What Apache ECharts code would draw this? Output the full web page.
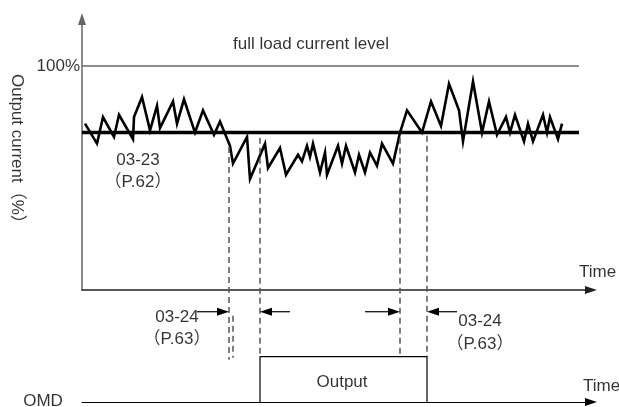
<!DOCTYPE html>
<html>
<head>
<meta charset="utf-8">
<script src="https://cdn.jsdelivr.net/npm/echarts@6/dist/echarts.min.js"></script>
<style>
  html, body { margin: 0; padding: 0; background: #fff; }
  #chart { width: 619px; height: 407px; }
</style>
</head>
<body>
<div id="chart"></div>
<script>
// output current trace (time units, % of full load)
const waveT = [3, 15, 21, 32, 37, 51, 52, 60, 68, 75, 78, 91, 95, 102, 113, 121, 132, 138, 148, 151,
  165, 168, 183, 186, 198, 204, 216, 220, 225, 228, 231, 238, 243, 245, 256, 260, 264, 273, 277, 283,
  288, 295, 300, 311, 318, 325, 340, 349, 359, 367, 377, 381, 391, 400, 407, 415, 424, 428, 433, 442,
  446, 451, 461, 465, 468, 476, 480]
const waveV = [74, 65, 77, 68, 78, 67, 77, 86, 71, 82, 72, 84, 74, 85, 70, 80, 69, 75, 64, 56,
  68, 49, 65, 54, 63, 51, 60, 57, 64, 59, 65, 52, 61, 51, 64, 56, 64, 52, 60, 52,
  61, 55, 65, 56, 70, 80, 70, 84, 73, 92, 80, 66, 93, 70, 84, 69, 77, 70, 78, 66,
  74, 66, 78, 70, 77, 67, 74]

const fullLoadLevel = 100
const detectLevel = 70
const levelEndT = 497

// OMD output on / off
const omdOnT = 178
const omdOffT = 345

// dashed guides: time, top, bottom
const dashT = [147, 151, 178, 318, 345]
const dashTop = [63.5, -12.6, 67.6, 67.6, 68.5]
const dashBottom = [-32.4, -31.5, -31.1, -31.1, -31.1]

// delay arrows: from, to (tip), level
const arrowFrom = [115, 208, 283, 375]
const arrowTo = [147, 178, 318, 345]
const arrowLevel = -10.8

// annotation texts
const labelText = ['full load current level', '100%', '03-23', '（P.62）', '03-24', '（P.63）', '03-24', '（P.63）', 'Time', 'Time', 'OMD', 'Output']
const labelT = [229, -2, 56, 56, 95, 95, 398, 398, 497, 501, -39, 260]
const labelV = [110, 100, 57.7, 47.7, -13.1, -23.4, -15.3, -25.7, 6.8, -44.6, -51.4, -42.8]
const labelAlign = ['center', 'right', 'center', 'center', 'center', 'center', 'center', 'center', 'left', 'left', 'center', 'center']

const font = 'Liberation Sans, Arial, Noto Sans CJK SC, sans-serif'

const series = []

series.push({
  type: 'line', xAxisIndex: 0, yAxisIndex: 0, symbol: 'none', clip: false, silent: true,
  data: [[0, fullLoadLevel], [levelEndT, fullLoadLevel]],
  lineStyle: { color: '#666', width: 1.5 }
})
series.push({
  type: 'line', xAxisIndex: 0, yAxisIndex: 0, symbol: 'none', clip: false, silent: true,
  data: [[0, detectLevel], [levelEndT, detectLevel]],
  lineStyle: { color: '#000', width: 3.5 }
})
series.push({
  type: 'line', xAxisIndex: 0, yAxisIndex: 0, symbol: 'none', clip: false, silent: true,
  data: waveT.map((t, i) => [t, waveV[i]]),
  lineStyle: { color: '#000', width: 2.6, join: 'miter' }
})

dashT.forEach((t, i) => {
  series.push({
    type: 'line', xAxisIndex: 0, yAxisIndex: 0, symbol: 'none', clip: false, silent: true,
    data: [[t, dashTop[i]], [t, dashBottom[i]]],
    lineStyle: { color: '#555', width: 1.5, type: [6, 4] }
  })
})

arrowFrom.forEach((f, i) => {
  const to = arrowTo[i]
  const dir = to > f ? 1 : -1
  series.push({
    type: 'line', xAxisIndex: 0, yAxisIndex: 0, clip: false, silent: true,
    data: [
      { value: [f, arrowLevel], symbol: 'none' },
      { value: [to - dir * 6, arrowLevel], symbol: 'triangle', symbolSize: [8, 12], symbolRotate: dir > 0 ? -90 : 90 }
    ],
    itemStyle: { color: '#000' },
    lineStyle: { color: '#000', width: 1.2 }
  })
})

// OMD output pulse
series.push({
  type: 'line', xAxisIndex: 1, yAxisIndex: 1, symbol: 'none', clip: false, silent: true,
  data: [[omdOnT, 0], [omdOnT, 1], [omdOffT, 1], [omdOffT, 0]],
  lineStyle: { color: '#000', width: 1.2 }
})

series.push({
  type: 'scatter', xAxisIndex: 0, yAxisIndex: 0, clip: false, silent: true,
  symbolSize: 1, itemStyle: { color: 'rgba(0,0,0,0)' },
  data: labelText.map((s, i) => ({
    value: [labelT[i], labelV[i]],
    label: { show: true, position: 'inside', formatter: s, align: labelAlign[i], verticalAlign: 'middle', color: '#000', fontSize: 17, fontFamily: font }
  })).concat([{
    value: [-65, 60.8],
    label: { show: true, position: 'inside', formatter: 'Output current（%）', rotate: -90, align: 'center', verticalAlign: 'middle', color: '#000', fontSize: 17, fontFamily: font }
  }])
})

const chart = echarts.init(document.getElementById('chart'))
chart.setOption({
  animation: false,
  backgroundColor: '#fff',
  grid: [
    { left: 82, right: 28, top: 19, bottom: 117 },
    { left: 82, right: 28, top: 352, bottom: 5 }
  ],
  xAxis: [
    {
      gridIndex: 0, type: 'value', min: 0, max: 509,
      axisLine: { onZero: false, symbol: ['none', 'triangle'], symbolSize: [8, 12], lineStyle: { color: '#222', width: 1.5 } },
      axisTick: { show: false }, axisLabel: { show: false }, splitLine: { show: false }
    },
    {
      gridIndex: 1, type: 'value', min: 0, max: 509,
      axisLine: { onZero: false, symbol: ['none', 'triangle'], symbolSize: [8, 12], lineStyle: { color: '#000', width: 1.2 } },
      axisTick: { show: false }, axisLabel: { show: false }, splitLine: { show: false }
    }
  ],
  yAxis: [
    {
      gridIndex: 0, type: 'value', min: -1, max: 121.2,
      axisLine: { show: true, onZero: false, symbol: ['none', 'triangle'], symbolSize: [8, 12], lineStyle: { color: '#666', width: 1.5 } },
      axisTick: { show: false }, axisLabel: { show: false }, splitLine: { show: false }
    },
    {
      gridIndex: 1, type: 'value', min: 0, max: 1.1, show: false
    }
  ],
  series: series
})
</script>
</body>
</html>
